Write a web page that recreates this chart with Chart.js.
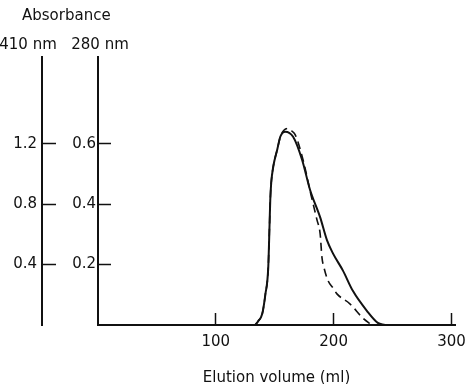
<!DOCTYPE html>
<html>
<head>
<meta charset="utf-8">
<script src="https://cdn.jsdelivr.net/npm/chart.js@4"></script>
<style>
  html, body { margin: 0; padding: 0; background: #fff; }
  #wrap { width: 470px; height: 384px; position: relative; }
</style>
</head>
<body>
<div id="wrap"><canvas id="c"></canvas></div>
<script>
// Elution volume (ml) and absorbance readings
const vol280 = [133.5, 136, 139.4, 142, 144.5, 145.4, 146.2, 147, 148.7, 152.1, 154.7, 158.9, 165.6, 173.2, 180, 188.5, 194.4, 199.4, 207.9, 216.3, 228.2, 237.5, 243.4];
const abs280 = [0, 0.013, 0.037, 0.10, 0.19, 0.303, 0.413, 0.47, 0.523, 0.58, 0.623, 0.64, 0.623, 0.547, 0.447, 0.357, 0.28, 0.237, 0.18, 0.113, 0.047, 0.007, 0];

const vol410 = [133.5, 136, 139.4, 142, 144.5, 145.4, 146.2, 147, 148.7, 152.1, 155, 158, 161.4, 165, 167.3, 174, 180.8, 185.9, 188.5, 190.1, 191.8, 195.2, 199.4, 202.8, 213.8, 224.8, 232.4];
const abs410 = [0, 0.026, 0.074, 0.20, 0.38, 0.606, 0.826, 0.94, 1.046, 1.16, 1.25, 1.29, 1.30, 1.28, 1.26, 1.094, 0.86, 0.694, 0.606, 0.446, 0.38, 0.294, 0.246, 0.206, 0.14, 0.046, 0];

const xTicks = [100, 200, 300];
const ticks410 = [0.4, 0.8, 1.2];
const ticks280 = [0.2, 0.4, 0.6];

const FONT = "'DejaVu Sans', sans-serif";
const INK = '#111';

const pts = (xs, ys) => xs.map((x, i) => ({x: x, y: ys[i]}));

const headerPlugin = {
  id: 'header',
  afterDraw(chart) {
    const ctx = chart.ctx;
    const s410 = chart.scales.y410, s280 = chart.scales.y280;
    ctx.save();
    ctx.fillStyle = INK;
    ctx.font = '15px ' + FONT;
    ctx.textBaseline = 'middle';
    ctx.textAlign = 'left';
    ctx.fillText('Absorbance', 22, 16);
    ctx.textAlign = 'center';
    ctx.fillText('410 nm', s410.right - 14, 45);
    ctx.fillText('280 nm', s280.right + 2, 45);
    ctx.restore();
  }
};

new Chart(document.getElementById('c'), {
  type: 'line',
  data: {
    datasets: [
      {
        label: '280 nm',
        data: pts(vol280, abs280),
        yAxisID: 'y280',
        borderColor: INK,
        borderWidth: 2,
        pointRadius: 0,
        fill: false,
        cubicInterpolationMode: 'monotone'
      },
      {
        label: '410 nm',
        data: pts(vol410, abs410),
        yAxisID: 'y410',
        borderColor: INK,
        borderWidth: 1.6,
        borderDash: [8, 5],
        pointRadius: 0,
        fill: false,
        cubicInterpolationMode: 'monotone'
      }
    ]
  },
  options: {
    responsive: true,
    maintainAspectRatio: false,
    animation: false,
    events: [],
    layout: { padding: { top: 57, right: 15, bottom: 0, left: 0 } },
    plugins: { legend: { display: false }, tooltip: { enabled: false } },
    scales: {
      x: {
        type: 'linear',
        min: 0, max: 303,
        afterBuildTicks: s => { s.ticks = xTicks.map(v => ({value: v})); },
        afterFit: s => { s.height = 59; s.paddingLeft = 0; s.paddingRight = 0; },
        border: { display: true, color: INK, width: 2 },
        grid: { display: true, drawOnChartArea: false, drawTicks: true, tickLength: -12, tickWidth: 1.5, tickColor: INK },
        ticks: { color: INK, font: { family: FONT, size: 15 }, padding: 20, maxRotation: 0 },
        title: { display: true, text: 'Elution volume (ml)', color: INK, font: { family: FONT, size: 15 }, padding: { top: 0, bottom: -3 } }
      },
      y280: {
        type: 'linear',
        position: 'left',
        min: 0, max: 0.887,
        afterBuildTicks: s => { s.ticks = ticks280.map(v => ({value: v})); },
        afterFit: s => { s.width = 56; s.paddingTop = 0; s.paddingBottom = 0; },
        border: { display: true, color: INK, width: 2 },
        grid: { display: true, drawOnChartArea: false, drawTicks: true, tickLength: -13, tickWidth: 1.5, tickColor: INK },
        ticks: { color: INK, font: { family: FONT, size: 15 }, padding: 15, callback: v => v.toFixed(1) }
      },
      y410: {
        type: 'linear',
        position: 'left',
        min: 0, max: 1.773,
        afterBuildTicks: s => { s.ticks = ticks410.map(v => ({value: v})); },
        afterFit: s => { s.width = 42; s.paddingTop = 0; s.paddingBottom = 0; },
        border: { display: true, color: INK, width: 2 },
        grid: { display: true, drawOnChartArea: false, drawTicks: true, tickLength: -14, tickWidth: 1.5, tickColor: INK },
        ticks: { color: INK, font: { family: FONT, size: 15 }, padding: 19, callback: v => v.toFixed(1) }
      }
    }
  },
  plugins: [headerPlugin]
});
</script>
</body>
</html>
